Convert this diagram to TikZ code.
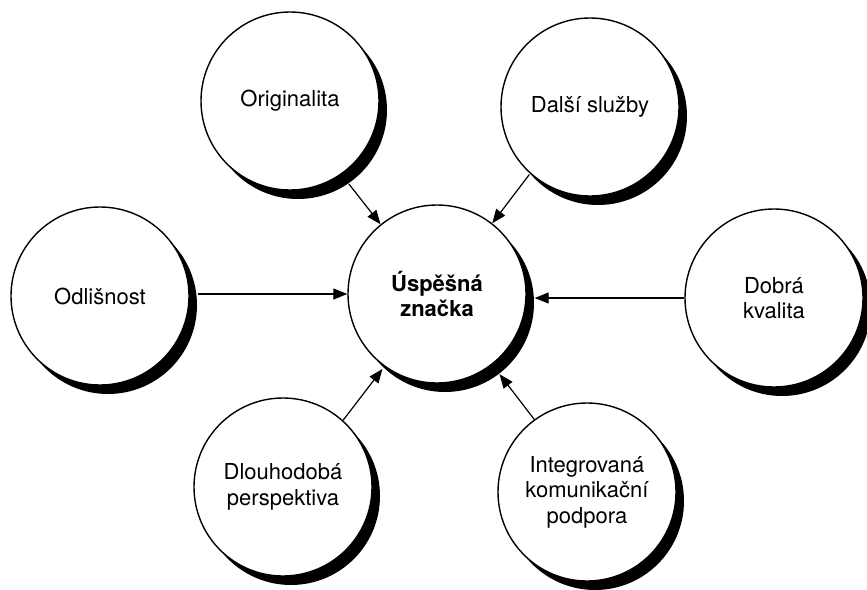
\documentclass[tikz,border=0pt]{standalone}
\usepackage{fontspec}
\setmainfont{TeX Gyre Heros}
\usetikzlibrary{arrows.meta,shadows}
\begin{document}
\begin{tikzpicture}[x=1pt,y=-1pt,
  bub/.style={circle,draw=black,line width=1.4pt,fill=white,minimum size=178pt,inner sep=0pt,
    align=center,font=\fontsize{22}{25.5}\selectfont,
    drop shadow={shadow xshift=8pt,shadow yshift=-9pt,fill=black,opacity=1}},
  arr/.style={-{Triangle[length=14pt,width=11pt]},line width=1.2pt}]
\useasboundingbox (0,0) rectangle (867,589);
\node[bub,font=\fontsize{22}{25.5}\selectfont\bfseries] (c) at (437,294) {Úspěšná\\značka};
\node[bub] (orig) at (290,101) {Originalita};
\node[bub] (dalsi) at (590,107) {Další služby};
\node[bub] (odl) at (100,296) {Odlišnost};
\node[bub] (dobra) at (774,298) {Dobrá\\kvalita};
\node[bub] (dl) at (283,487) {Dlouhodobá\\perspektiva};
\node[bub] (integ) at (587,492) {Integrovaná\\komunikační\\podpora};
\draw[arr,shorten <=12pt] (orig.-55) -- (c.129);
\draw[arr,shorten <=1pt] (dalsi.228) -- (c.52);
\draw[arr,shorten <=8pt] (odl.east |- c.west) -- (c.west);
\draw[arr,shorten >=8pt] (dobra.west) -- (dobra.west -| c.east);
\draw[arr,shorten >=3pt] (dl.48) -- (c.234);
\draw[arr,shorten >=12pt] (integ.126) -- (c.-52);
\end{tikzpicture}
\end{document}
